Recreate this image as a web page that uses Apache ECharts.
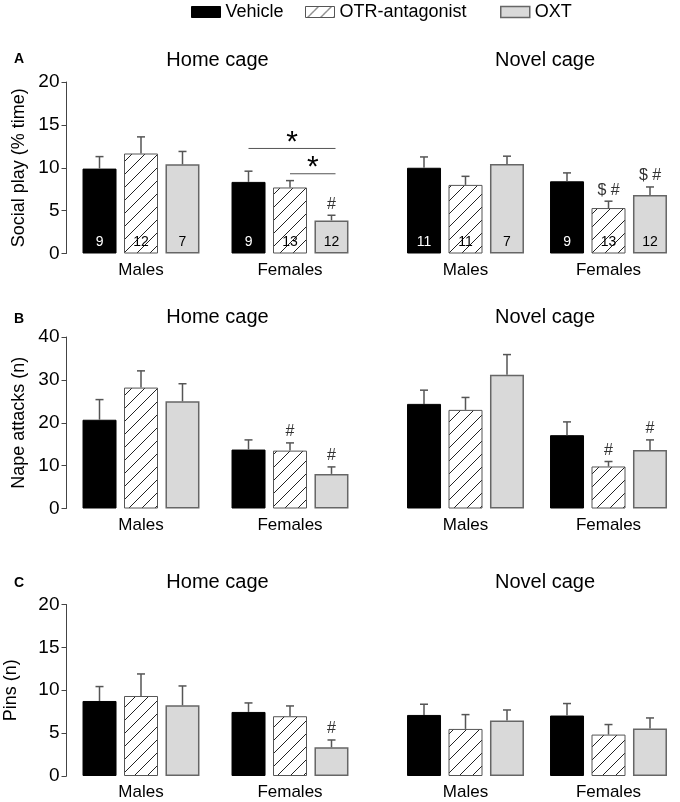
<!DOCTYPE html>
<html>
<head>
<meta charset="utf-8">
<script src="https://cdn.jsdelivr.net/npm/echarts@6/dist/echarts.min.js"></script>
<style>
  html, body { margin: 0; padding: 0; background: #fff; }
  #chart { width: 680px; height: 802px; }
</style>
</head>
<body>
<div id="chart"></div>
<script>
var groups = ['Males', 'Females'];
var treatments = ['Vehicle', 'OTR-antagonist', 'OXT'];

// rows = treatments (Vehicle, OTR-antagonist, OXT), columns = Males, Females
// A: social play (% time)
var playHomeMean  = [[9.9, 8.35], [11.66, 7.7], [10.4, 3.86]];
var playHomeSem   = [[1.4, 1.25], [1.94, 0.8], [1.5, 0.6]];
var playNovelMean = [[10.0, 8.42], [8.0, 5.3], [10.45, 6.83]];
var playNovelSem  = [[1.26, 0.98], [1.0, 0.8], [0.9, 0.93]];
var playHomeN  = [[9, 9], [12, 13], [7, 12]];
var playNovelN = [[11, 9], [11, 13], [7, 12]];
var playHomeMarks  = [['', ''], ['', ''], ['', '#']];
var playNovelMarks = [['', ''], ['', '$ #'], ['', '$ #']];
// significance bars: group, from treatment, to treatment, height
var playHomeSig = [[1, 0, 2, 12.25], [1, 1, 2, 9.3]];

// B: nape attacks (n)
var napeHomeMean  = [[20.7, 13.75], [28.2, 13.5], [25.0, 8.07]];
var napeHomeSem   = [[4.7, 2.25], [3.9, 1.8], [4.1, 1.63]];
var napeNovelMean = [[24.4, 17.1], [23.0, 9.8], [31.2, 13.66]];
var napeNovelSem  = [[3.2, 3.1], [2.9, 1.16], [4.7, 2.34]];
var napeHomeMarks  = [['', ''], ['', '#'], ['', '#']];
var napeNovelMarks = [['', ''], ['', '#'], ['', '#']];

// C: pins (n)
var pinsHomeMean  = [[8.75, 7.47], [9.33, 6.97], [8.25, 3.35]];
var pinsHomeSem   = [[1.68, 1.05], [2.57, 1.2], [2.25, 0.85]];
var pinsNovelMean = [[7.12, 7.05], [5.49, 4.83], [6.46, 5.53]];
var pinsNovelSem  = [[1.25, 1.4], [1.67, 1.17], [1.24, 1.24]];
var pinsHomeMarks  = [['', ''], ['', ''], ['', '#']];
var pinsNovelMarks = [['', ''], ['', ''], ['', '']];

var rowLetters = ['A', 'B', 'C'];
var rowNames = ['Social play (% time)', 'Nape attacks (n)', 'Pins (n)'];
var rowMax = [20, 40, 20];
var rowInterval = [5, 10, 5];
var panelTitles = ['Home cage', 'Novel cage'];

var FONT = 'Liberation Sans, Arial, sans-serif';

// hatch pattern
var hatch = document.createElement('canvas');
hatch.width = 13; hatch.height = 13;
var hc = hatch.getContext('2d');
hc.fillStyle = '#fff';
hc.fillRect(0, 0, 13, 13);
hc.strokeStyle = '#222';
hc.lineWidth = 1;
hc.beginPath();
hc.moveTo(0, 13); hc.lineTo(13, 0);
hc.moveTo(-1, 1); hc.lineTo(1, -1);
hc.moveTo(12, 14); hc.lineTo(14, 12);
hc.stroke();
var hatchFill = { image: hatch, repeat: 'repeat' };

var barStyles = [
  { color: '#000', borderColor: '#000', borderWidth: 1 },
  { color: hatchFill, borderColor: '#555', borderWidth: 1 },
  { color: '#d9d9d9', borderColor: '#666', borderWidth: 1.5 }
];

var panels = [
  { row: 0, col: 0, mean: playHomeMean, sem: playHomeSem, n: playHomeN, marks: playHomeMarks, sig: playHomeSig },
  { row: 0, col: 1, mean: playNovelMean, sem: playNovelSem, n: playNovelN, marks: playNovelMarks },
  { row: 1, col: 0, mean: napeHomeMean, sem: napeHomeSem, marks: napeHomeMarks },
  { row: 1, col: 1, mean: napeNovelMean, sem: napeNovelSem, marks: napeNovelMarks },
  { row: 2, col: 0, mean: pinsHomeMean, sem: pinsHomeSem, marks: pinsHomeMarks },
  { row: 2, col: 1, mean: pinsNovelMean, sem: pinsNovelSem, marks: pinsNovelMarks }
];

var rowTops = [82, 337, 604.5];
var rowHeight = 171.5;
var colLefts = [66.5, 394];
var gridWidth = 298;
var nameGaps = [38, 38.5, 46.5];
var barW = 34;
var offsets = [-41.5, 0, 41.5];

var grids = [], xAxes = [], yAxes = [], series = [], graphics = [];

panels.forEach(function (p, gi) {
  grids.push({ left: colLefts[p.col], top: rowTops[p.row], width: gridWidth, height: rowHeight });
  xAxes.push({
    type: 'category', gridIndex: gi, data: groups,
    axisLine: { show: false }, axisTick: { show: false },
    axisLabel: { color: '#000', fontSize: 17, fontFamily: FONT, margin: 8 }
  });
  yAxes.push({
    type: 'value', gridIndex: gi, min: 0, max: rowMax[p.row], interval: rowInterval[p.row],
    show: p.col === 0,
    name: rowNames[p.row], nameLocation: 'middle', nameGap: nameGaps[p.row],
    nameTextStyle: { color: '#000', fontSize: 18, fontFamily: FONT },
    splitLine: { show: false },
    axisLine: { show: true, lineStyle: { color: '#444', width: 1 } },
    axisTick: { show: true, length: 5, lineStyle: { color: '#444' } },
    axisLabel: { color: '#000', fontSize: 19, fontFamily: FONT, margin: 7 }
  });

  treatments.forEach(function (t, ti) {
    var bar = {
      type: 'bar', name: t, xAxisIndex: gi, yAxisIndex: gi,
      data: p.mean[ti], barWidth: barW, barGap: '22%',
      itemStyle: barStyles[ti], z: 2
    };
    if (p.n) {
      bar.label = {
        show: true, position: 'insideBottom', distance: 4,
        color: ti === 0 ? '#fff' : '#000', fontSize: 14, fontFamily: FONT,
        formatter: function (prm) { return String(p.n[ti][prm.dataIndex]); }
      };
    }
    series.push(bar);

    series.push({
      type: 'custom', xAxisIndex: gi, yAxisIndex: gi, z: 3, silent: true,
      data: p.mean[ti].map(function (m, k) { return [k, m, m + p.sem[ti][k]]; }),
      renderItem: function (params, api) {
        var b = api.coord([api.value(0), api.value(1)]);
        var e = api.coord([api.value(0), api.value(2)]);
        var x = b[0] + offsets[ti];
        var st = { stroke: '#555', lineWidth: 1.5 };
        var kids = [
          { type: 'line', shape: { x1: x, y1: b[1], x2: x, y2: e[1] }, style: st },
          { type: 'line', shape: { x1: x - 4, y1: e[1], x2: x + 4, y2: e[1] }, style: st }
        ];
        var mk = p.marks[ti][params.dataIndex];
        if (mk) {
          kids.push({
            type: 'text',
            style: { text: mk, x: x, y: e[1] - 11, align: 'center', verticalAlign: 'middle',
                     fill: '#333', fontSize: 16, fontFamily: FONT }
          });
        }
        return { type: 'group', children: kids };
      }
    });
  });

  if (p.sig) {
    series.push({
      type: 'custom', xAxisIndex: gi, yAxisIndex: gi, z: 3, silent: true,
      data: p.sig,
      renderItem: function (params, api) {
        var c = api.coord([api.value(0), api.value(3)]);
        var x1 = c[0] + offsets[api.value(1)];
        var x2 = c[0] + offsets[api.value(2)] + 4;
        return { type: 'group', children: [
          { type: 'line', shape: { x1: x1, y1: c[1], x2: x2, y2: c[1] }, style: { stroke: '#555', lineWidth: 1 } },
          { type: 'text', style: { text: '*', x: (x1 + x2) / 2, y: c[1] - 6, align: 'center', verticalAlign: 'middle',
                                   fill: '#000', fontSize: 30, fontFamily: FONT } }
        ] };
      }
    });
  }
});

// panel titles and row letters
var titleY = [60, 317, 582];
var letterY = [59, 319, 583];
[0, 1, 2].forEach(function (r) {
  graphics.push({ type: 'text', x: 19, y: letterY[r],
    style: { text: rowLetters[r], fill: '#000', font: 'bold 14px ' + FONT, align: 'center', verticalAlign: 'middle' } });
  panelTitles.forEach(function (tt, c) {
    graphics.push({ type: 'text', x: colLefts[c] + gridWidth / 2 + 2, y: titleY[r],
      style: { text: tt, fill: '#000', fontSize: 20, fontFamily: FONT, align: 'center', verticalAlign: 'middle' } });
  });
});

function legendFor(ti, left) {
  var st = {};
  for (var k in barStyles[ti]) st[k] = barStyles[ti][k];
  return {
    data: [{ name: treatments[ti], icon: 'rect', itemStyle: st }],
    left: left, top: 3, padding: 0, itemWidth: 29, itemHeight: 11, selectedMode: false,
    textStyle: { color: '#000', fontSize: 18, fontFamily: FONT }
  };
}

var option = {
  animation: false,
  legend: [legendFor(0, 191), legendFor(1, 305), legendFor(2, 500)],
  grid: grids,
  xAxis: xAxes,
  yAxis: yAxes,
  series: series,
  graphic: graphics
};

var myChart = echarts.init(document.getElementById('chart'));
myChart.setOption(option);
</script>
</body>
</html>
